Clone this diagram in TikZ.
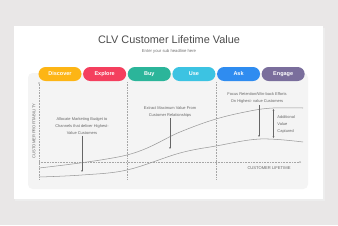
\documentclass[tikz,border=0pt]{standalone}
\usepackage{fontspec}
\setmainfont{Liberation Sans}
\usetikzlibrary{arrows.meta, positioning}
\definecolor{figbg}{HTML}{E9E7E7}
\definecolor{figpanel}{HTML}{F4F4F4}
\definecolor{figyellow}{HTML}{FDB515}
\definecolor{figred}{HTML}{F43F5E}
\definecolor{figteal}{HTML}{2BB59A}
\definecolor{figcyan}{HTML}{3CC3E2}
\definecolor{figblue}{HTML}{2F8CF0}
\definecolor{figpurple}{HTML}{7A6E9C}
\tikzset{
  figpill/.style={rounded corners=6pt, minimum width=1.29cm, minimum height=0.42cm,
    inner sep=0pt, text=white, font=\fontsize{4.7}{5}\selectfont\bfseries},
  figtitle/.style={font=\fontsize{9.3}{10}\selectfont, text=black!70},
  figsub/.style={font=\fontsize{3.6}{4}\selectfont, text=black!55},
  figlabel/.style={font=\fontsize{3.4}{6}\selectfont, text=black!60, align=center, inner sep=1pt},
  figaxis/.style={font=\fontsize{3.5}{4}\selectfont, text=black!60, inner sep=0pt},
  figguide/.style={black!35, densely dotted, line width=0.35pt},
  figcurve/.style={black!40, line width=0.45pt},
  figarrow/.style={-{Stealth[length=1.6pt, width=1.4pt]}, black!60, line width=0.35pt},
}

\begin{document}
\begin{tikzpicture}[x=0.03cm, y=-0.03cm]
  \fill[figbg] (0,0) rectangle (338,225);
  \useasboundingbox (0,0) rectangle (338,225);
  \fill[black!7] (15,27.5) rectangle (324.5,200.5);
  \fill[white] (14,26) rectangle (323,199);
  \fill[figpanel, rounded corners=4pt] (28,73) rectangle (308,189);

  \node[figtitle] (title) at (169,40) {CLV Customer Lifetime Value};
  \node[figsub] (sub) at (169,51.5) {Enter your sub headline here};

  % stages
  \node[figpill, fill=figyellow] (discover) at (60,74) {Discover};
  \node[figpill, fill=figred, right=0.35mm of discover] (explore) {Explore};
  \node[figpill, fill=figteal, right=0.35mm of explore] (buy) {Buy};
  \node[figpill, fill=figcyan, right=0.35mm of buy] (use) {Use};
  \node[figpill, fill=figblue, right=0.35mm of use] (ask) {Ask};
  \node[figpill, fill=figpurple, right=0.35mm of ask] (engage) {Engage};

  % axes and guides
  \coordinate (ytop) at (39,82);
  \coordinate (ybot) at (39,179);
  \coordinate (xleft) at (39,162);
  \coordinate (xright) at (301,162);
  \draw[figguide, -{Stealth[length=1.4pt, width=1.4pt]}] (ybot) -- (ytop);
  \draw[figguide, -{Stealth[length=1.4pt, width=1.4pt]}] (xleft) -- (xright);
  \foreach \gx in {127,216}
    \draw[figguide] (\gx,179) -- (\gx,82);
  \node[figaxis, rotate=90] (ylabel) at (34,131) {CUSTOMER PROFITABILITY};
  \node[figaxis] (xlabel) at (269,168) {CUSTOMER LIFETIME};

  % value curves
  \draw[figcurve] plot[smooth, tension=0.6] coordinates
    {(39,168) (127,155) (180,132) (216,119) (250,111) (273,108) (303,108)};
  \draw[figcurve] plot[smooth, tension=0.6] coordinates
    {(39,177) (82,175) (127,170) (180,153) (216,146) (260,139) (303,142)};

  % notes
  \node[figlabel] (budget) at (82,126) {Allocate Marketing Budget to\\Channels that deliver Highest-\\Value Customers};
  \coordinate (budgetend) at (82,172);
  \draw[figarrow] (budget) -- (budgetend);

  \node[figlabel] (extract) at (170,111.5) {Extract Maximum Value From\\Customer Relationships};
  \coordinate (extractend) at (170,149);
  \draw[figarrow] (extract) -- (extractend);

  \node[figlabel] (focus) at (257,98) {Focus Retention/Win-back Efforts\\On Highest- value Customers};
  \coordinate (focusend) at (259,137);
  \draw[figarrow] (focus.south -| focusend) -- (focusend);

  \coordinate (gaptop) at (273.5,109);
  \coordinate (gapbot) at (273.5,138);
  \draw[figarrow, {Stealth[length=1.6pt, width=1.4pt]}-{Stealth[length=1.6pt, width=1.4pt]}] (gaptop) -- (gapbot);
  \node[figlabel, anchor=west, align=left] (extra) at (276,124) {Additional\\Value\\Captured};
\end{tikzpicture}
\end{document}
